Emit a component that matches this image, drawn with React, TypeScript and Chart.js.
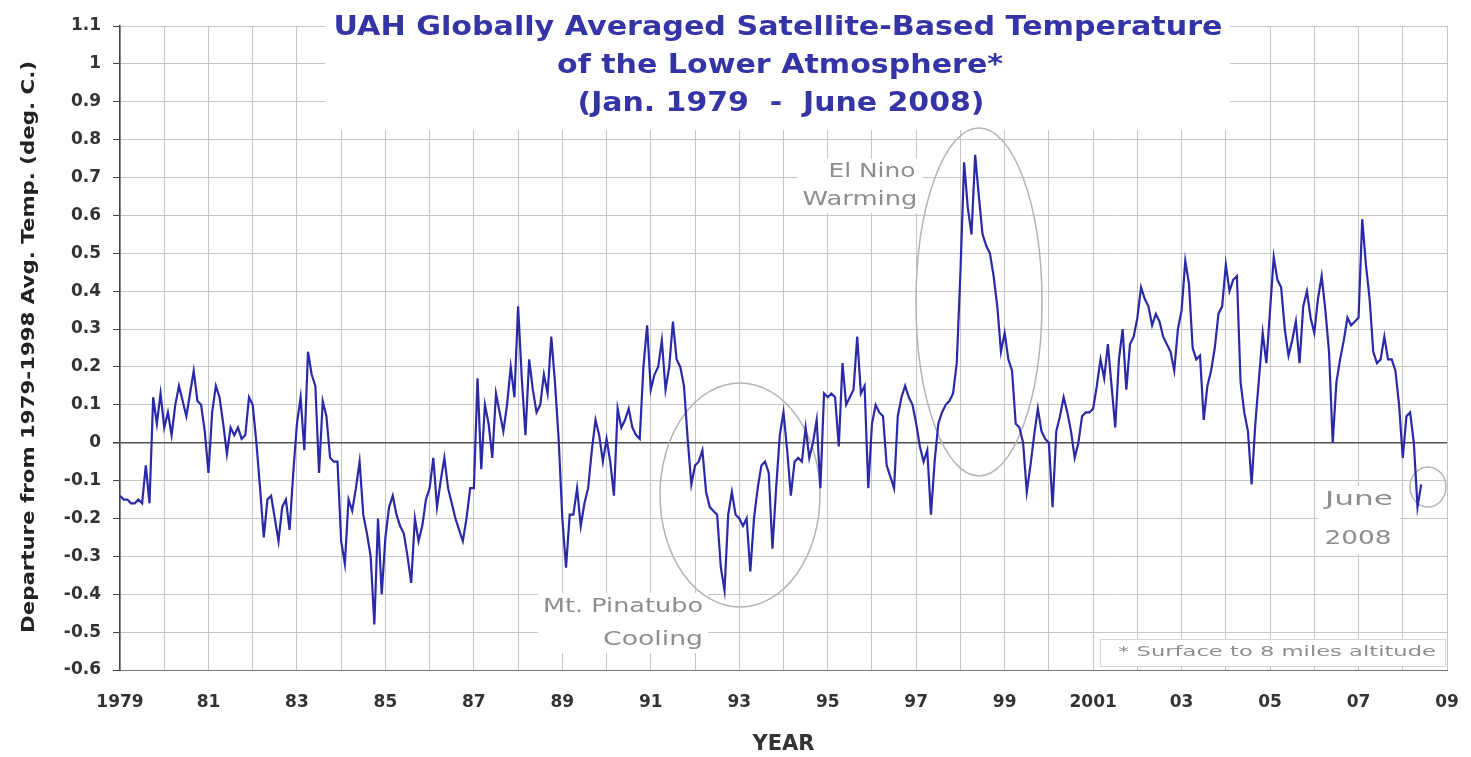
import React, { useEffect, useRef } from "react";
import { Chart, registerables } from "chart.js";

Chart.register(...registerables);

// Monthly anomalies (deg C), Jan 1979 - June 2008
const T1979 = [-0.14, -0.15, -0.15, -0.16, -0.16, -0.15, -0.16, -0.06, -0.16, 0.12, 0.05, 0.13];
const T1980 = [0.04, 0.08, 0.02, 0.1, 0.15, 0.11, 0.07, 0.13, 0.19, 0.11, 0.1, 0.03];
const T1981 = [-0.08, 0.08, 0.15, 0.12, 0.05, -0.03, 0.04, 0.02, 0.04, 0.01, 0.02, 0.12];
const T1982 = [0.1, 0.0, -0.12, -0.25, -0.15, -0.14, -0.2, -0.26, -0.17, -0.15, -0.23, -0.08];
const T1983 = [0.05, 0.12, -0.02, 0.24, 0.18, 0.15, -0.08, 0.11, 0.07, -0.04, -0.05, -0.05];
const T1984 = [-0.26, -0.32, -0.15, -0.18, -0.12, -0.05, -0.19, -0.24, -0.3, -0.48, -0.2, -0.4];
const T1985 = [-0.25, -0.17, -0.14, -0.19, -0.22, -0.24, -0.3, -0.37, -0.2, -0.26, -0.22, -0.15];
const T1986 = [-0.12, -0.04, -0.17, -0.1, -0.04, -0.12, -0.16, -0.2, -0.23, -0.26, -0.2, -0.12];
const T1987 = [-0.12, 0.17, -0.07, 0.1, 0.05, -0.04, 0.13, 0.08, 0.03, 0.1, 0.2, 0.12];
const T1988 = [0.36, 0.17, 0.02, 0.22, 0.14, 0.08, 0.1, 0.18, 0.13, 0.28, 0.16, 0.01];
const T1989 = [-0.2, -0.33, -0.19, -0.19, -0.12, -0.22, -0.16, -0.12, -0.02, 0.06, 0.02, -0.05];
const T1990 = [0.01, -0.05, -0.14, 0.09, 0.04, 0.06, 0.09, 0.04, 0.02, 0.01, 0.2, 0.31];
const T1991 = [0.14, 0.18, 0.2, 0.27, 0.14, 0.2, 0.32, 0.22, 0.2, 0.15, 0.01, -0.11];
const T1992 = [-0.06, -0.05, -0.02, -0.13, -0.17, -0.18, -0.19, -0.33, -0.39, -0.19, -0.13, -0.19];
const T1993 = [-0.2, -0.22, -0.2, -0.34, -0.2, -0.12, -0.06, -0.05, -0.08, -0.28, -0.12, 0.02];
const T1994 = [0.08, -0.02, -0.14, -0.05, -0.04, -0.05, 0.04, -0.04, 0.0, 0.06, -0.12, 0.13];
const T1995 = [0.12, 0.13, 0.12, -0.01, 0.21, 0.1, 0.12, 0.14, 0.28, 0.13, 0.15, -0.12];
const T1996 = [0.05, 0.1, 0.08, 0.07, -0.06, -0.09, -0.12, 0.07, 0.12, 0.15, 0.12, 0.1];
const T1997 = [0.05, -0.01, -0.05, -0.02, -0.19, -0.05, 0.05, 0.08, 0.1, 0.11, 0.13, 0.21];
const T1998 = [0.45, 0.74, 0.62, 0.55, 0.76, 0.65, 0.55, 0.52, 0.5, 0.44, 0.36, 0.24];
const T1999 = [0.29, 0.22, 0.19, 0.05, 0.04, 0.0, -0.13, -0.06, 0.02, 0.09, 0.03, 0.01];
const T2000 = [0.0, -0.17, 0.03, 0.07, 0.12, 0.08, 0.03, -0.04, 0.0, 0.07, 0.08, 0.08];
const T2001 = [0.09, 0.15, 0.22, 0.17, 0.26, 0.15, 0.04, 0.22, 0.3, 0.14, 0.26, 0.28];
const T2002 = [0.33, 0.41, 0.38, 0.36, 0.31, 0.34, 0.32, 0.28, 0.26, 0.24, 0.19, 0.3];
const T2003 = [0.35, 0.48, 0.42, 0.25, 0.22, 0.23, 0.06, 0.15, 0.19, 0.25, 0.34, 0.36];
const T2004 = [0.47, 0.4, 0.43, 0.44, 0.16, 0.08, 0.03, -0.11, 0.05, 0.17, 0.29, 0.21];
const T2005 = [0.35, 0.49, 0.43, 0.41, 0.3, 0.23, 0.27, 0.32, 0.21, 0.36, 0.4, 0.33];
const T2006 = [0.29, 0.38, 0.44, 0.35, 0.24, 0.0, 0.16, 0.22, 0.27, 0.33, 0.31, 0.32];
const T2007 = [0.33, 0.59, 0.47, 0.38, 0.24, 0.21, 0.22, 0.28, 0.22, 0.22, 0.19, 0.1];
const T2008 = [-0.04, 0.07, 0.08, 0.0, -0.17, -0.11];

const YEARS = [
  T1979, T1980, T1981, T1982, T1983, T1984, T1985, T1986, T1987, T1988,
  T1989, T1990, T1991, T1992, T1993, T1994, T1995, T1996, T1997, T1998,
  T1999, T2000, T2001, T2002, T2003, T2004, T2005, T2006, T2007, T2008,
];

const X_TICK_LABELS = ["1979", "81", "83", "85", "87", "89", "91", "93", "95", "97", "99", "2001", "03", "05", "07", "09"];
const Y_TICK_VALUES = [-0.6, -0.5, -0.4, -0.3, -0.2, -0.1, 0, 0.1, 0.2, 0.3, 0.4, 0.5, 0.6, 0.7, 0.8, 0.9, 1, 1.1];
const Y_TICK_LABELS = ["-0.6", "-0.5", "-0.4", "-0.3", "-0.2", "-0.1", "0", "0.1", "0.2", "0.3", "0.4", "0.5", "0.6", "0.7", "0.8", "0.9", "1", "1.1"];

const TITLE_LINES = [
  "UAH Globally Averaged Satellite-Based Temperature",
  "of the Lower Atmosphere*",
  "(Jan. 1979  -  June 2008)",
];
const Y_TITLE = "Departure from 1979-1998 Avg. Temp. (deg. C.)";
const X_TITLE = "YEAR";

function fitText(
  ctx: CanvasRenderingContext2D,
  text: string,
  cx: number,
  cy: number,
  width: number,
  font: string,
  color: string,
  rotate = 0
) {
  ctx.save();
  ctx.font = font;
  ctx.fillStyle = color;
  ctx.textAlign = "center";
  ctx.textBaseline = "middle";
  const w = ctx.measureText(text).width || 1;
  ctx.translate(cx, cy);
  if (rotate) ctx.rotate(rotate);
  ctx.scale(width / w, 1);
  ctx.fillText(text, 0, 0);
  ctx.restore();
}

function whiteBox(ctx: CanvasRenderingContext2D, x: number, y: number, w: number, h: number, border?: string) {
  ctx.save();
  ctx.fillStyle = "#ffffff";
  ctx.fillRect(x, y, w, h);
  if (border) {
    ctx.strokeStyle = border;
    ctx.lineWidth = 1;
    ctx.strokeRect(x + 0.5, y + 0.5, w, h);
  }
  ctx.restore();
}

function ellipse(ctx: CanvasRenderingContext2D, cx: number, cy: number, rx: number, ry: number) {
  ctx.save();
  ctx.strokeStyle = "#b4b4b4";
  ctx.lineWidth = 1.5;
  ctx.beginPath();
  ctx.ellipse(cx, cy, rx, ry, 0, 0, Math.PI * 2);
  ctx.stroke();
  ctx.restore();
}

const decorPlugin = {
  id: "decor",
  beforeDatasetsDraw(chart: any) {
    const ctx: CanvasRenderingContext2D = chart.ctx;
    // title area covers the grid
    whiteBox(ctx, 325, 0, 905, 130);
    const tf = "bold 26px 'DejaVu Sans', sans-serif";
    const tc = "#3434a6";
    fitText(ctx, TITLE_LINES[0], 778, 28, 889, tf, tc);
    fitText(ctx, TITLE_LINES[1], 780, 66, 446, tf, tc);
    fitText(ctx, TITLE_LINES[2], 781, 104, 407, tf, tc);

    // y axis title
    fitText(ctx, Y_TITLE, 30, 347, 572, "bold 17px 'DejaVu Sans', sans-serif", "#222", -Math.PI / 2);

    // annotations
    const af = "19px 'DejaVu Sans', sans-serif";
    const ac = "#8e8e8e";
    whiteBox(ctx, 538, 593, 170, 60);
    fitText(ctx, "Mt. Pinatubo", 623, 607, 160, af, ac);
    fitText(ctx, "Cooling", 653, 640, 100, af, ac);
    whiteBox(ctx, 798, 159, 124, 54);
    fitText(ctx, "El Nino", 872, 172, 87, af, ac);
    fitText(ctx, "Warming", 860, 200, 115, af, ac);
    whiteBox(ctx, 1318, 486, 82, 68);
    fitText(ctx, "June", 1359, 500, 68, af, ac);
    fitText(ctx, "2008", 1358, 539, 67, af, ac);
    whiteBox(ctx, 1100, 639, 345, 27, "#d8d8d8");
    fitText(ctx, "* Surface to 8 miles altitude", 1277, 652, 318, "14px 'DejaVu Sans', sans-serif", ac);

    ellipse(ctx, 740, 495, 80, 112);
    ellipse(ctx, 979, 302, 63, 174);
    ellipse(ctx, 1428, 487, 18, 20);
  },
};

export default function App() {
  const ref = useRef<HTMLCanvasElement | null>(null);

  useEffect(() => {
    if (!ref.current) return;
    const values = YEARS.flat();
    const points = values.map((v, i) => ({ x: i, y: v }));
    const xTicks = X_TICK_LABELS.flatMap((_, i) => (i < X_TICK_LABELS.length - 1 ? [i * 24, i * 24 + 12] : [i * 24]));

    const chart = new Chart(ref.current, {
      type: "line",
      data: {
        datasets: [
          {
            data: points,
            borderColor: "#2a2aa8",
            borderWidth: 2.2,
            pointRadius: 0,
            tension: 0,
            fill: false,
          },
        ],
      },
      options: {
        animation: false,
        responsive: false,
        maintainAspectRatio: false,
        devicePixelRatio: 1,
        layout: { padding: { left: 0, top: 26, right: 24, bottom: 0 } },
        plugins: {
          legend: { display: false },
          tooltip: { enabled: false },
          title: { display: false },
        },
        scales: {
          x: {
            type: "linear",
            min: 0,
            max: 360,
            afterBuildTicks: (scale: any) => {
              scale.ticks = xTicks.map((v) => ({ value: v }));
            },
            afterFit: (scale: any) => {
              scale.height = 87;
            },
            ticks: {
              autoSkip: false,
              maxRotation: 0,
              padding: 3,
              color: "#333",
              font: { family: "'DejaVu Sans', sans-serif", weight: "bold", size: 17 },
              callback: (value: any) => {
                const v = Number(value);
                return v % 24 === 0 ? X_TICK_LABELS[v / 24] : "";
              },
            },
            grid: { color: "#c6c6c6", lineWidth: 1, drawTicks: true, tickLength: 19, tickColor: "rgba(0,0,0,0)" },
            border: { display: true, color: "#777", width: 1 },
            title: {
              display: true,
              text: X_TITLE,
              color: "#333",
              font: { family: "'DejaVu Sans', sans-serif", weight: "bold", size: 21 },
              padding: { top: 0, bottom: 0 },
            },
          },
          y: {
            type: "linear",
            min: -0.6,
            max: 1.1,
            afterBuildTicks: (scale: any) => {
              scale.ticks = Y_TICK_VALUES.map((v) => ({ value: v }));
            },
            afterFit: (scale: any) => {
              scale.width = 120;
            },
            ticks: {
              padding: 12,
              color: "#333",
              font: { family: "'DejaVu Sans', sans-serif", weight: "bold", size: 17 },
              callback: (_v: any, index: number) => Y_TICK_LABELS[index],
            },
            grid: {
              color: (c: any) => (c.tick && Math.abs(c.tick.value) < 1e-9 ? "#505050" : "#c6c6c6"),
              lineWidth: (c: any) => (c.tick && Math.abs(c.tick.value) < 1e-9 ? 1.6 : 1),
              tickColor: "#444",
              tickLength: 7,
            },
            border: { display: true, color: "#444", width: 1.5 },
          },
        },
      },
      plugins: [decorPlugin],
    } as any);

    return () => chart.destroy();
  }, []);

  return (
    <div style={{ position: "fixed", left: 0, top: 0, width: 1471, height: 757, background: "#fff" }}>
      <canvas ref={ref} width={1471} height={757} />
    </div>
  );
}
